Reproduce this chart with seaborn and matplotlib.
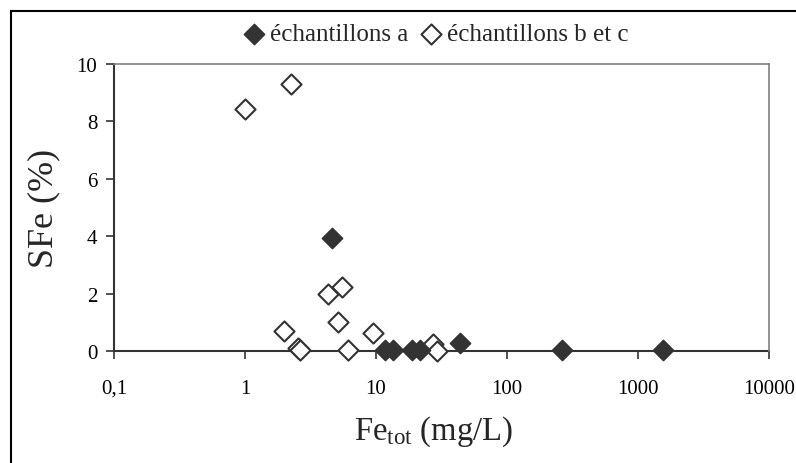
import matplotlib
matplotlib.use("Agg")
import matplotlib.pyplot as plt
import seaborn as sns
import pandas as pd
from matplotlib.patches import Rectangle
from matplotlib.ticker import FixedLocator, FixedFormatter, NullLocator

sns.set_theme(style="white")
plt.rcParams['font.family'] = ['Liberation Serif', 'DejaVu Serif']
plt.rcParams['mathtext.default'] = 'regular'

# échantillons a (filled)
fe_a = [4.6, 11.7, 13.5, 18.8, 21.7, 43.5, 265, 1550]
sfe_a = [3.93, 0.05, 0.03, 0.03, 0.05, 0.28, 0.05, 0.02]
# échantillons b et c (hollow)
fe_bc = [1.0, 2.25, 2.0, 2.55, 2.65, 4.3, 5.5, 5.1, 6.1, 9.5, 27.0, 29.0]
sfe_bc = [8.43, 9.32, 0.7, 0.1, 0.02, 1.98, 2.23, 1.0, 0.02, 0.63, 0.24, 0.0]

label_a = "échantillons a"
label_bc = "échantillons b et c"
x_ticks = [0.1, 1, 10, 100, 1000, 10000]
x_ticklabels = ["0,1", "1", "10", "100", "1000", "10000"]
y_ticks = [0, 2, 4, 6, 8, 10]

df_a = pd.DataFrame({"Fe": fe_a, "SFe": sfe_a})
df_bc = pd.DataFrame({"Fe": fe_bc, "SFe": sfe_bc})

fig = plt.figure(figsize=(7.96, 4.64), dpi=100)
ax = fig.add_axes([114/796, 1-352/464, (769-114)/796, (352-65)/464])

# outer frame
fig.patches.append(Rectangle((11/796, -0.1), 1.2, 1.1-12/464, transform=fig.transFigure,
                             fill=False, edgecolor='black', linewidth=1.5, clip_on=False))

sns.scatterplot(data=df_bc, x="Fe", y="SFe", ax=ax, marker='D', s=105,
                facecolor='white', edgecolor='#333333', linewidth=1.5,
                label=label_bc, zorder=3, clip_on=False)
sns.scatterplot(data=df_a, x="Fe", y="SFe", ax=ax, marker='D', s=105,
                color='#333333', edgecolor='#333333', linewidth=1.2,
                label=label_a, zorder=4, clip_on=False)

ax.set_xscale('log')
ax.set_xlim(0.1, 10000)
ax.set_ylim(0, 10)
ax.xaxis.set_major_locator(FixedLocator(x_ticks))
ax.xaxis.set_major_formatter(FixedFormatter(x_ticklabels))
ax.xaxis.set_minor_locator(NullLocator())
ax.set_yticks(y_ticks)
ax.set_yticklabels([str(v) for v in y_ticks])

for side in ['top', 'right']:
    ax.spines[side].set_color('#808080')
    ax.spines[side].set_linewidth(1.2)
for side in ['left', 'bottom']:
    ax.spines[side].set_color('#333333')
    ax.spines[side].set_linewidth(1.5)
    ax.spines[side].set_zorder(2)

ax.tick_params(axis='both', which='major', direction='out', length=6, width=1.2,
               color='#333333', labelsize=15, labelcolor='black',
               bottom=True, left=True)
ax.tick_params(axis='x', pad=14)
ax.tick_params(axis='y', pad=6)

ax.set_xlabel("Fe$_{tot}$ (mg/L)", fontsize=23.5)
ax.xaxis.set_label_coords((434-114)/655, -(432-352)/287, transform=ax.transAxes)
ax.xaxis.label.set_verticalalignment('center')
ax.set_ylabel("SFe (%)", fontsize=26, labelpad=12)

handles, labels = ax.get_legend_handles_labels()
order = [labels.index(label_a), labels.index(label_bc)]
ax.legend([handles[i] for i in order], [labels[i] for i in order],
          loc='center', bbox_to_anchor=(0.49, 1.0 + (65-35)/287), ncol=2,
          frameon=False, fontsize=18, handletextpad=0.15, columnspacing=0.4,
          handlelength=1.0, borderaxespad=0)

fig.savefig("out.png", dpi=100)
